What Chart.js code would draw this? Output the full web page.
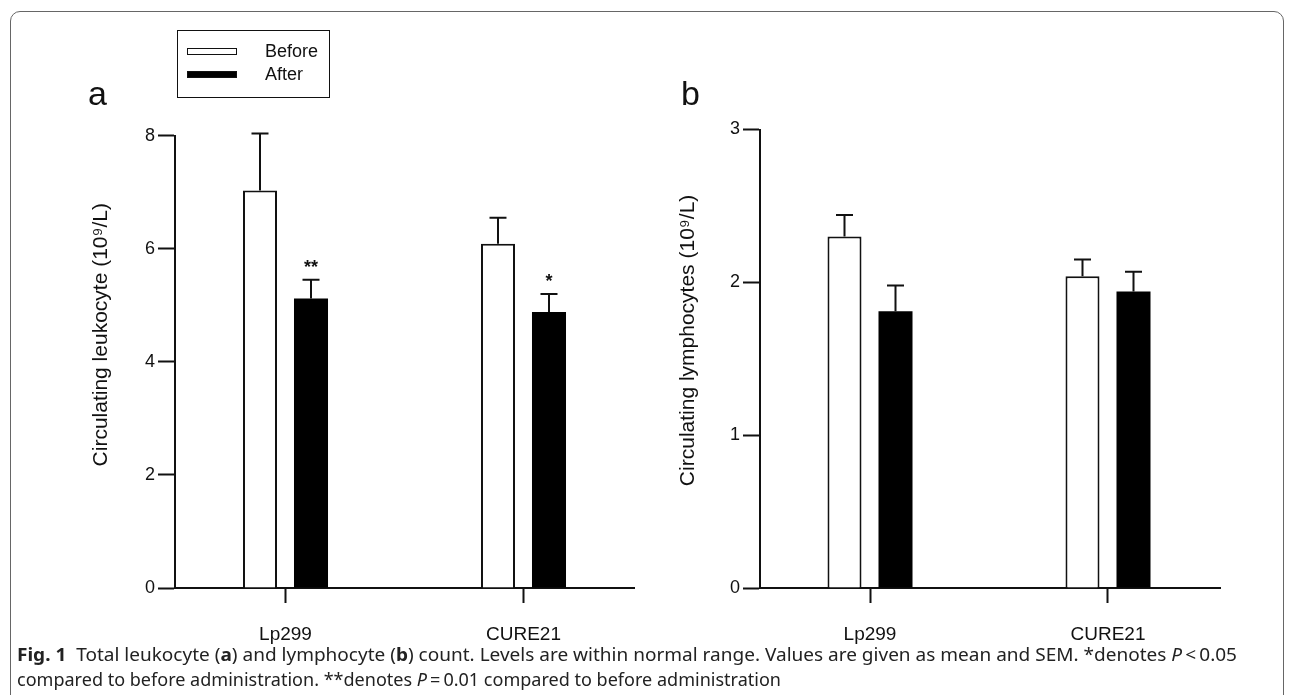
<!DOCTYPE html>
<html><head><meta charset="utf-8">
<script src="https://cdn.jsdelivr.net/npm/chart.js@4.4.1/dist/chart.umd.min.js"></script>
<style>
html,body{margin:0;padding:0;background:#fff;width:1293px;height:695px;overflow:hidden;position:relative;font-family:"Liberation Sans",Arial,sans-serif;color:#111;}
canvas{position:absolute;top:0;}
#frame{position:absolute;left:10px;top:11px;width:1272px;height:740px;border:1px solid #666;border-radius:10px;pointer-events:none;}
.panel{position:absolute;font-size:34px;line-height:34px;color:#111;}
#legend{position:absolute;left:177px;top:30px;width:151px;height:66px;border:1.5px solid #111;}
.sw{position:absolute;left:9px;width:50px;height:7px;box-sizing:border-box;border:1.5px solid #111;}
.lt{position:absolute;left:87px;font-size:18px;line-height:20px;}
.cap{position:absolute;left:17px;white-space:nowrap;font-family:"Noto Sans","Open Sans",sans-serif;font-size:17.5px;line-height:20px;transform-origin:0 50%;color:#222;}
</style>
</head><body>
<canvas id="ca" width="650" height="695" style="left:0"></canvas>
<canvas id="cb" width="643" height="695" style="left:650px"></canvas>
<div id="frame"></div>
<div class="panel" style="left:88px;top:76px">a</div>
<div class="panel" style="left:681px;top:76px">b</div>
<div id="legend"></div>
<div class="cap" id="cap1" style="top:644px"><b>Fig. 1</b>&nbsp; Total leukocyte (<b>a</b>) and lymphocyte (<b>b</b>) count. Levels are within normal range. Values are given as mean and SEM. *denotes <i>P</i>&thinsp;&lt;&thinsp;0.05</div>
<div class="cap" id="cap2" style="top:669px">compared to before administration. **denotes <i>P</i>&thinsp;=&thinsp;0.01 compared to before administration</div>
<script>
// ---- data ----
const categories = ['Lp299', 'CURE21'];
const seriesNames = ['Before', 'After'];
const leukBefore = [7.03, 6.09];
const leukBeforeSem = [1.01, 0.46];
const leukAfter = [5.12, 4.88];
const leukAfterSem = [0.33, 0.32];
const leukAfterSig = ['**', '*'];
const lymphBefore = [2.30, 2.04];
const lymphBeforeSem = [0.14, 0.11];
const lymphAfter = [1.81, 1.94];
const lymphAfterSem = [0.17, 0.13];
const lymphAfterSig = ['', ''];
const leukTicks = [0, 2, 4, 6, 8];
const lymphTicks = [0, 1, 2, 3];
const titleA = 'Circulating leukocyte (10\u2079/L)';
const titleB = 'Circulating lymphocytes (10\u2079/L)';

// legend (html)
(function(){
  const lg = document.getElementById('legend');
  const fills = ['#fff', '#000'];
  seriesNames.forEach((n, i) => {
    const sw = document.createElement('div');
    sw.className = 'sw';
    sw.style.top = (17 + i * 23) + 'px';
    sw.style.background = fills[i];
    lg.appendChild(sw);
    const t = document.createElement('div');
    t.className = 'lt';
    t.style.top = (10 + i * 23) + 'px';
    t.textContent = n;
    lg.appendChild(t);
  });
})();

// caption fitting
function fitCap(id, w){ const el=document.getElementById(id); const nw=el.getBoundingClientRect().width; el.style.transform='scaleX('+(w/nw)+')'; }
fitCap('cap1', 1220);
fitCap('cap2', 764);

const errorBars = {
  id: 'errorBars',
  afterDatasetsDraw(chart) {
    const ctx = chart.ctx, ys = chart.scales.y;
    ctx.save();
    ctx.strokeStyle = '#111';
    ctx.lineWidth = 2;
    chart.data.datasets.forEach((ds, di) => {
      const meta = chart.getDatasetMeta(di);
      meta.data.forEach((bar, i) => {
        const v = ds.data[i].y, e = ds.sem[i];
        const yt = ys.getPixelForValue(v + e);
        ctx.beginPath();
        ctx.moveTo(bar.x, bar.y);
        ctx.lineTo(bar.x, yt);
        ctx.moveTo(bar.x - 8.5, yt);
        ctx.lineTo(bar.x + 8.5, yt);
        ctx.stroke();
        if (ds.sig && ds.sig[i]) {
          ctx.fillStyle = '#111';
          ctx.font = 'bold 18px "Liberation Sans", Arial, sans-serif';
          ctx.textAlign = 'center';
          ctx.textBaseline = 'middle';
          ctx.fillText(ds.sig[i], bar.x, yt - 12);
        }
      });
    });
    ctx.restore();
  }
};

// rotated y-axis title, placed relative to the y scale box
const yTitle = {
  id: 'yTitle',
  afterDraw(chart, args, opts) {
    const ctx = chart.ctx, ys = chart.scales.y, ca = chart.chartArea;
    ctx.save();
    ctx.translate(ys.left + opts.dx, ca.top + (ca.bottom - ca.top) * opts.frac);
    ctx.rotate(-Math.PI / 2);
    ctx.fillStyle = '#111';
    ctx.font = opts.size + 'px "Liberation Sans", Arial, sans-serif';
    ctx.textAlign = 'center';
    ctx.textBaseline = 'middle';
    ctx.fillText(opts.text, 0, 0);
    ctx.restore();
  }
};

function makeChart(id, before, beforeSem, after, afterSem, afterSig, ticks, title, pad, xmin, xmax, titleOpts) {
  const tickFont = {family: '"Liberation Sans", Arial, sans-serif', size: 18};
  return new Chart(document.getElementById(id), {
    type: 'bar',
    data: {
      datasets: [
        {label: seriesNames[0], data: categories.map((c, i) => ({x: i, y: before[i]})), sem: beforeSem,
         backgroundColor: '#fff', borderColor: '#111', borderWidth: 2, borderSkipped: 'bottom'},
        {label: seriesNames[1], data: categories.map((c, i) => ({x: i, y: after[i]})), sem: afterSem, sig: afterSig,
         backgroundColor: '#000', borderColor: '#000', borderWidth: 0}
      ]
    },
    options: {
      responsive: false,
      animation: false,
      devicePixelRatio: 1,
      categoryPercentage: 0.4286,
      barPercentage: 0.667,
      layout: {padding: pad},
      plugins: {legend: {display: false}, tooltip: {enabled: false},
                yTitle: Object.assign({text: title}, titleOpts)},
      scales: {
        x: {
          type: 'linear', min: xmin, max: xmax, offset: false,
          afterBuildTicks: s => { s.ticks = categories.map((c, i) => ({value: i})); },
          afterFit: s => { s.height = 80; },
          grid: {display: true, drawOnChartArea: false, offset: false, tickLength: 15, tickWidth: 2, tickColor: '#111'},
          border: {display: true, color: '#111', width: 2},
          ticks: {autoSkip: false, maxRotation: 0, padding: 20, color: '#111',
                  font: {family: '"Liberation Sans", Arial, sans-serif', size: 19},
                  callback: v => categories[v] ?? ''}
        },
        y: {
          min: ticks[0], max: ticks[ticks.length - 1],
          afterBuildTicks: s => { s.ticks = ticks.map(v => ({value: v})); },
          afterFit: s => { s.width = 90; },
          grid: {display: true, drawOnChartArea: false, tickLength: 17, tickWidth: 2, tickColor: '#111'},
          border: {display: true, color: '#111', width: 2},
          ticks: {padding: 3, color: '#111', font: tickFont},
          title: {display: false}
        }
      }
    },
    plugins: [errorBars, yTitle]
  });
}

makeChart('ca', leukBefore, leukBeforeSem, leukAfter, leukAfterSem, leukAfterSig, leukTicks, titleA,
  {left: 85, right: 16, top: 135.7, bottom: 27}, -0.4643, 1.4643, {dx: 16, frac: 0.44, size: 21});
makeChart('cb', lymphBefore, lymphBeforeSem, lymphAfter, lymphAfterSem, lymphAfterSig, lymphTicks, titleB,
  {left: 20, right: 73, top: 129.5, bottom: 27}, -0.4622, 1.4706, {dx: 18, frac: 0.46, size: 21});
</script>
</body></html>
